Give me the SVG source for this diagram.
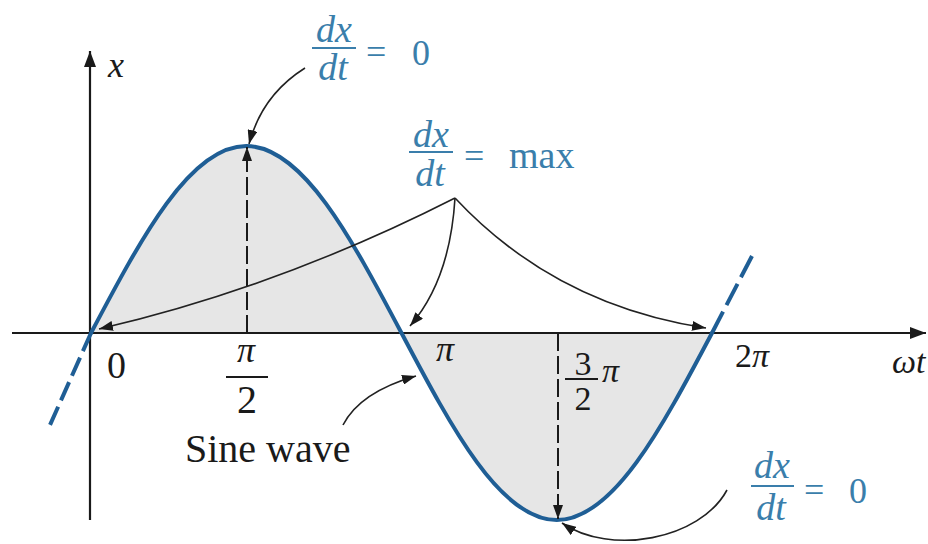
<svg xmlns="http://www.w3.org/2000/svg" width="928" height="544" viewBox="0 0 928 544">
<style>
.ax{stroke:#1a1a1a;stroke-width:2.2;fill:none}
.wave{stroke:#1f5e95;stroke-width:4;fill:none;stroke-linecap:round}
.ext{stroke:#1f5e95;stroke-width:4;fill:none}
.fillw{fill:#e6e6e6;stroke:none}
.dash{stroke:#1a1a1a;stroke-width:2;fill:none;stroke-dasharray:18 5}
.con{stroke:#222;stroke-width:1.6;fill:none}
.t{font-family:"Liberation Serif","Times New Roman",serif;fill:#1a1a1a}
.b{font-family:"Liberation Serif","Times New Roman",serif;fill:#3a7eab}
.i{font-style:italic}
.bar{stroke:#3a7eab;stroke-width:1.8}
.kbar{stroke:#1a1a1a;stroke-width:1.8}
</style>
<defs>
<marker id="ah" viewBox="0 0 14 10" refX="14" refY="5" markerWidth="14" markerHeight="10" markerUnits="userSpaceOnUse" orient="auto">
<path d="M0,0 L14,5 L0,10 Z" fill="#1a1a1a"/>
</marker>
<marker id="axh" viewBox="0 0 16 12" refX="16" refY="6" markerWidth="16" markerHeight="12" markerUnits="userSpaceOnUse" orient="auto">
<path d="M0,0 L16,6 L0,12 Z" fill="#1a1a1a"/>
</marker>
</defs>

<g id="fill">
<path class="fillw" d="M91,333 C141.63,237.2 190.06,146 246.25,146 C302.44,146 350.87,237.2 401.5,333 C452.13,428.8 500.56,520 556.75,520 C612.94,520 661.37,428.8 712,333 Z"/>
</g>

<g id="axes">
<line class="ax" x1="12" y1="333" x2="926" y2="333" marker-end="url(#axh)"/>
<line class="ax" x1="90" y1="520" x2="90" y2="51" marker-end="url(#axh)"/>
<text class="t i" x="108" y="77" font-size="36">x</text>
<text class="t i" x="892" y="373" font-size="34">ωt</text>
</g>

<g id="ticks">
<text class="t" x="107" y="378" font-size="38">0</text>
<text class="t i" x="246" y="362" font-size="36" text-anchor="middle">π</text>
<line class="kbar" x1="226" y1="377" x2="268" y2="377"/>
<text class="t" x="247" y="413" font-size="40" text-anchor="middle">2</text>
<text class="t i" x="445" y="361" font-size="36" text-anchor="middle">π</text>
<text class="t" x="583" y="375" font-size="34" text-anchor="middle">3</text>
<line class="kbar" x1="565" y1="379" x2="598" y2="379"/>
<text class="t" x="583" y="410" font-size="34" text-anchor="middle">2</text>
<text class="t i" x="602" y="382" font-size="34">π</text>
<text class="t" x="735" y="367" font-size="34">2<tspan font-style="italic">π</tspan></text>
</g>

<g id="wave">
<path class="wave" d="M91,333 C141.63,237.2 190.06,146 246.25,146 C302.44,146 350.87,237.2 401.5,333 C452.13,428.8 500.56,520 556.75,520 C612.94,520 661.37,428.8 712,333"/>
<line class="ext" x1="91" y1="333" x2="50" y2="425" stroke-dasharray="19.9 7"/>
<line class="ext" x1="712" y1="333" x2="752" y2="256" stroke-dasharray="24 7.4"/>
</g>

<g id="connectors">
<line class="dash" x1="247" y1="333" x2="247" y2="147" marker-end="url(#ah)"/>
<line class="dash" x1="558" y1="333" x2="558" y2="519" marker-end="url(#ah)"/>
<path class="con" d="M305,68 Q262,95 249,144" marker-end="url(#ah)"/>
<path class="con" d="M455,198 Q280,287 99,329" marker-end="url(#ah)"/>
<path class="con" d="M455,198 Q450,280 410,326" marker-end="url(#ah)"/>
<path class="con" d="M455,198 Q555,305 706,328" marker-end="url(#ah)"/>
<path class="con" d="M343,425 Q360,392 416,376" marker-end="url(#ah)"/>
<path class="con" d="M727,490 C700,540 610,556 562,523" marker-end="url(#ah)"/>
</g>

<g id="label-top">
<text class="b i" x="334" y="42" font-size="38" text-anchor="middle">dx</text>
<line class="bar" x1="312" y1="48" x2="356" y2="48"/>
<text class="b i" x="333" y="80" font-size="38" text-anchor="middle">dt</text>
<text class="b" x="366" y="64" font-size="36">=</text>
<text class="b" x="412" y="65" font-size="36">0</text>
</g>

<g id="label-max">
<text class="b i" x="431" y="147" font-size="38" text-anchor="middle">dx</text>
<line class="bar" x1="409" y1="152" x2="453" y2="152"/>
<text class="b i" x="430" y="186" font-size="38" text-anchor="middle">dt</text>
<text class="b" x="464" y="168" font-size="36">=</text>
<text class="b" x="509" y="168" font-size="38">max</text>
</g>

<g id="label-bottom">
<text class="b i" x="772" y="478" font-size="38" text-anchor="middle">dx</text>
<line class="bar" x1="751" y1="486" x2="794" y2="486"/>
<text class="b i" x="771" y="520" font-size="38" text-anchor="middle">dt</text>
<text class="b" x="804" y="502" font-size="36">=</text>
<text class="b" x="849" y="503" font-size="36">0</text>
</g>

<g id="label-sine">
<text class="t" x="185" y="462" font-size="40">Sine wave</text>
</g>
</svg>
